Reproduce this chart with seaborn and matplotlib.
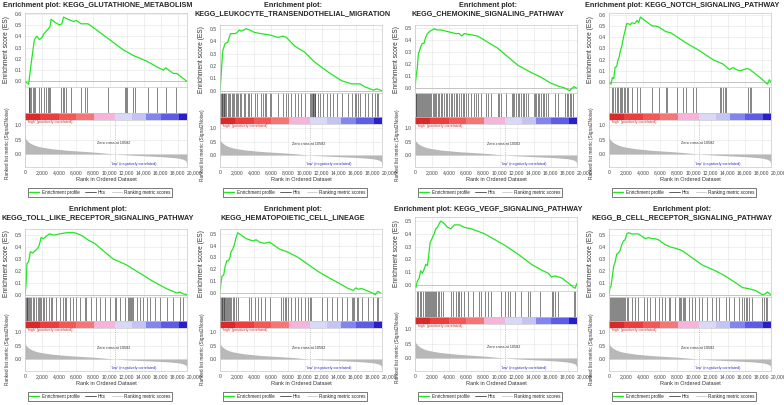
import seaborn as sns
import matplotlib.pyplot as plt
from matplotlib.lines import Line2D
from matplotlib.ticker import MultipleLocator, FormatStrFormatter

# ---- data ----
titles = ['Enrichment plot: KEGG_GLUTATHIONE_METABOLISM',
          'Enrichment plot:\nKEGG_LEUKOCYTE_TRANSENDOTHELIAL_MIGRATION',
          'Enrichment plot:\nKEGG_CHEMOKINE_SIGNALING_PATHWAY',
          'Enrichment plot: KEGG_NOTCH_SIGNALING_PATHWAY',
          'Enrichment plot:\nKEGG_TOLL_LIKE_RECEPTOR_SIGNALING_PATHWAY',
          'Enrichment plot:\nKEGG_HEMATOPOIETIC_CELL_LINEAGE',
          'Enrichment plot: KEGG_VEGF_SIGNALING_PATHWAY',
          'Enrichment plot:\nKEGG_B_CELL_RECEPTOR_SIGNALING_PATHWAY']

glut_rank = [0, 430, 711, 1106, 1383, 1700, 2015, 2212, 2568, 2805, 2963, 3081, 3595, 4069, 4345, 4543,
             5056, 5728, 6044, 6636, 7426, 7821, 11574, 12760, 14339, 15524, 16314, 16590, 17499, 17894, 19100]
glut_es = [0.0, -0.025, 0.15, 0.37, 0.40, 0.37, 0.39, 0.42, 0.45, 0.47, 0.49, 0.55, 0.52, 0.50, 0.51, 0.57,
           0.55, 0.53, 0.54, 0.51, 0.51, 0.49, 0.28, 0.23, 0.18, 0.13, 0.10, 0.12, 0.07, 0.07, 0.0]
glut_hits = [435, 514, 632, 751, 909, 1106, 1225, 1699, 1896, 2212, 2489, 2686, 2884, 3002, 4187, 4464, 4543,
             4859, 5451, 6636, 7031, 7308, 9796, 11771, 11890, 12048, 12759, 12956, 14536, 15524, 16590, 17775]

leuk_rank = [0, 118, 316, 593, 909, 1225, 1501, 1778, 2015, 2291, 2489, 2805, 3081, 3476, 4069, 4859, 5846,
             6834, 7426, 7821, 8809, 9994, 11179, 12759, 14339, 15524, 16511, 17104, 18091, 18486, 18881, 19100]
leuk_es = [0.0, 0.11, 0.32, 0.38, 0.39, 0.46, 0.46, 0.46, 0.47, 0.49, 0.48, 0.49, 0.50, 0.49, 0.47, 0.46, 0.45,
           0.43, 0.44, 0.43, 0.36, 0.31, 0.23, 0.15, 0.08, 0.055, 0.055, 0.03, 0.005, 0.015, 0.005, 0.0]
leuk_hits = [40, 118, 198, 277, 356, 435, 514, 632, 751, 909, 1067, 1225, 1383, 1541, 1699, 1857, 2015, 2173,
             2331, 2489, 2884, 3002, 3279, 3476, 3674, 4069, 4306, 4859, 5056, 5254, 5451, 5846, 6044, 6834,
             7426, 7821, 8019, 8414, 8809, 9204, 9599, 9994, 10586, 10784, 10863, 10942, 11021, 11100, 11179,
             11258, 11574, 11771, 12166, 12561, 12956, 13351, 13746, 14339, 15129, 15524, 15919, 15998, 16314,
             16511, 17104, 17499, 17894, 18289, 18486, 18684]

chem_rank = [0, 118, 276, 395, 671, 868, 1065, 1262, 1460, 1775, 2051, 2249, 2643, 3038, 3629, 4221, 4813,
             5207, 5523, 5799, 6588, 7377, 8561, 9744, 10928, 12111, 13689, 14873, 16056, 17042, 17634, 18226,
             18739, 19054]
chem_es = [0.0, 0.09, 0.17, 0.28, 0.34, 0.37, 0.37, 0.42, 0.45, 0.47, 0.48, 0.49, 0.48, 0.48, 0.47, 0.46, 0.45,
           0.45, 0.43, 0.45, 0.44, 0.43, 0.38, 0.33, 0.26, 0.19, 0.13, 0.09, 0.04, 0.014, 0.003, -0.02,
           0.014, 0.0]
chem_hits = [79, 158, 237, 316, 434, 552, 671, 789, 907, 1026, 1144, 1262, 1381, 1499, 1657, 1775, 1933, 2091,
             2249, 2367, 2525, 2683, 2840, 3038, 3235, 3432, 3629, 3827, 4024, 4221, 4418, 4616, 4813, 5010,
             5207, 5405, 5602, 5799, 5996, 6273, 6588, 6904, 7180, 7456, 7772, 8363, 8640, 8955, 9744, 9941,
             10139, 10730, 11401, 11559, 11717, 11914, 12111, 12308, 12506, 12703, 12900, 13097, 13295, 14005,
             14163, 14320, 14478, 14675, 14873, 15070, 15267, 15464, 15662, 16451, 16845, 17713, 17871, 18029,
             18226, 18423, 18620]

notch_rank = [0, 239, 398, 557, 716, 914, 1034, 1193, 1352, 1511, 1710, 1908, 2068, 2306, 2505, 2704, 3022,
              3300, 3499, 3698, 5089, 5487, 5884, 6680, 7276, 9065, 10656, 12246, 13439, 14234, 14632, 15029,
              15427, 15825, 16302, 16620, 17812, 18700, 18900, 19100]
notch_es = [0.0, -0.02, 0.04, 0.03, 0.13, 0.14, 0.19, 0.22, 0.28, 0.32, 0.40, 0.46, 0.52, 0.52, 0.51, 0.53,
            0.52, 0.55, 0.53, 0.58, 0.50, 0.50, 0.49, 0.45, 0.44, 0.35, 0.28, 0.20, 0.16, 0.11, 0.13, 0.11,
            0.10, 0.11, 0.12, 0.11, 0.04, -0.02, 0.02, 0.0]
notch_hits = [318, 517, 716, 914, 1113, 1312, 1431, 1590, 1710, 1908, 2068, 2227, 2704, 3300, 3698, 5089, 5884,
              6680, 6878, 8071, 8668, 9065, 9860, 10258, 13041, 13240, 13439, 13638, 13836, 16421, 16620,
              16739, 18806]

toll_rank = [0, 118, 237, 435, 632, 909, 1225, 1501, 1699, 1896, 2173, 2489, 2884, 3476, 4069, 4859, 5451,
             5846, 6241, 6834, 7426, 8216, 9204, 10389, 11969, 13549, 15129, 16709, 17894, 18289, 18605, 19079]
toll_es = [0.0, 0.08, 0.26, 0.28, 0.36, 0.35, 0.37, 0.39, 0.42, 0.48, 0.47, 0.49, 0.51, 0.50, 0.51, 0.52, 0.52,
           0.52, 0.51, 0.49, 0.46, 0.43, 0.37, 0.30, 0.25, 0.18, 0.11, 0.05, 0.014, 0.022, 0.008, 0.0]
toll_hits = [40, 118, 198, 277, 356, 435, 553, 672, 909, 1106, 1304, 1501, 1620, 1738, 1857, 2094, 2291, 2489,
             2884, 3042, 3200, 3674, 4069, 4464, 4661, 4859, 5254, 5649, 6044, 6439, 7031, 7229, 7821, 8414,
             8809, 9401, 9994, 10586, 10784, 11179, 11771, 12166, 12285, 12403, 12522, 12640, 12759, 13154,
             13549, 13944, 14339, 14734, 15326, 15919, 16709, 17499, 18289, 18605]

hema_rank = [0, 118, 237, 435, 593, 790, 988, 1185, 1304, 1501, 1699, 1896, 2094, 2489, 3081, 3476, 3871,
             4266, 4661, 5254, 5846, 6439, 7031, 7821, 8414, 9204, 10389, 11574, 12759, 13944, 15129, 15721,
             15998, 16314, 16709, 17499, 17894, 18289, 18605, 18881]
hema_es = [0.0, 0.09, 0.14, 0.15, 0.22, 0.27, 0.27, 0.30, 0.35, 0.37, 0.41, 0.47, 0.51, 0.49, 0.46, 0.45, 0.44,
           0.45, 0.43, 0.42, 0.43, 0.40, 0.37, 0.35, 0.33, 0.30, 0.24, 0.18, 0.13, 0.084, 0.035, 0.02, 0.04,
           0.03, 0.035, 0.012, 0.0, -0.017, 0.012, 0.0]
hema_hits = [40, 118, 198, 277, 356, 435, 514, 632, 751, 869, 988, 1106, 1225, 1343, 1501, 1699, 1896, 2094,
             3476, 3674, 4069, 4464, 4859, 5254, 5846, 7229, 7426, 7624, 7821, 8019, 8414, 8809, 9204, 9599,
             9994, 10389, 10586, 10784, 11969, 12561, 13154, 13746, 14339, 14931, 15524, 15721, 15840, 16116,
             16314, 16709, 17499, 18091, 18486, 18605]

vegf_rank = [0, 119, 277, 475, 673, 871, 1069, 1267, 1465, 1584, 1782, 2059, 2257, 2455, 2653, 2851, 3049,
             3445, 3841, 4237, 4633, 5227, 5821, 6613, 7405, 8197, 8989, 10573, 12157, 13741, 14929, 15721,
             16117, 16513, 17305, 18097, 18691, 18889, 19100]
vegf_es = [0.0, -0.02, 0.03, 0.05, 0.11, 0.09, 0.12, 0.16, 0.15, 0.21, 0.33, 0.37, 0.40, 0.44, 0.45, 0.48, 0.50,
           0.48, 0.45, 0.44, 0.47, 0.47, 0.45, 0.44, 0.42, 0.40, 0.37, 0.31, 0.24, 0.16, 0.115, 0.09, 0.06,
           0.07, 0.053, 0.013, -0.02, -0.027, 0.013]
vegf_hits = [198, 356, 594, 752, 990, 1148, 1307, 1465, 1584, 1703, 1822, 1940, 2059, 2178, 2297, 2416, 2534,
             2653, 2851, 3049, 3247, 4237, 4435, 4831, 5029, 5227, 5425, 5821, 6217, 6811, 7603, 7801, 8197,
             8593, 8989, 10177, 10573, 10969, 11167, 11761, 12553, 13345, 13543, 14731, 16117, 16315, 16513,
             16909, 18691, 18889]

bcell_rank = [0, 119, 237, 395, 553, 711, 909, 1106, 1304, 1501, 1699, 1896, 2094, 2291, 2686, 3081, 3476,
              3871, 4266, 4661, 5056, 5451, 5846, 6636, 7229, 7821, 8611, 9796, 10981, 12561, 13746, 14931,
              15721, 16511, 17301, 18091, 18407, 18684, 19079]
bcell_es = [0.0, 0.06, 0.07, 0.155, 0.24, 0.27, 0.34, 0.35, 0.37, 0.42, 0.45, 0.46, 0.51, 0.52, 0.51, 0.51,
            0.51, 0.49, 0.47, 0.48, 0.47, 0.47, 0.46, 0.42, 0.40, 0.39, 0.37, 0.31, 0.25, 0.20, 0.155, 0.10,
            0.06, 0.05, 0.034, 0.0, 0.006, 0.023, 0.0]
bcell_hits = [119, 237, 356, 474, 593, 711, 830, 948, 1067, 1185, 1304, 1422, 1541, 1659, 1778, 1896, 2094,
              2291, 2686, 3081, 3476, 4069, 4464, 4859, 5451, 5846, 6241, 6636, 7031, 7229, 7821, 8216, 8374,
              8532, 8690, 8809, 9006, 9401, 9796, 10191, 10586, 10981, 11574, 12166, 12561, 12956, 13746,
              14141, 14734, 15326, 15721, 15919, 16116, 16314, 16511, 16906, 18091, 18289, 18486, 18684]

# ranked list metric (same dataset for every panel)
metric_rank = [0, 100, 300, 600, 1000, 1500, 2000, 3000, 4000, 5000, 6000, 7000, 8000, 9000, 10000, 10582,
               11000, 12000, 13000, 14000, 15000, 16000, 17000, 18000, 18500, 18800, 19000, 19100]
metric_value = [0.62, 0.52, 0.45, 0.38, 0.32, 0.27, 0.24, 0.19, 0.16, 0.13, 0.11, 0.09, 0.07, 0.045, 0.015,
                0.0, -0.01, -0.03, -0.045, -0.06, -0.075, -0.09, -0.11, -0.14, -0.17, -0.2, -0.25, -0.38]
zero_cross = 10582
n_genes = 19100

cbar_edges = [0, 1800, 4000, 6000, 8100, 10600, 12600, 14300, 16000, 18200, 19100]
cbar_colors = ['#d82a2a', '#ec3e3e', '#f25858', '#f47676', '#f7b4da', '#d8d8f8', '#c4c4f4',
               '#8484ee', '#5c5ce4', '#2a1ec8']

es_data = [(glut_rank, glut_es, glut_hits), (leuk_rank, leuk_es, leuk_hits),
           (chem_rank, chem_es, chem_hits), (notch_rank, notch_es, notch_hits),
           (toll_rank, toll_es, toll_hits), (hema_rank, hema_es, hema_hits),
           (vegf_rank, vegf_es, vegf_hits), (bcell_rank, bcell_es, bcell_hits)]

# ---- drawing ----
sns.set_style('white')
plt.rcParams['font.family'] = ['Liberation Sans', 'DejaVu Sans']

W, H = 784, 405
fig = plt.figure(figsize=(W / 100, H / 100), dpi=100)
fig.patch.set_facecolor('white')


def box(left, top, width, height):
    return [left / W, 1 - (top + height) / H, width / W, height / H]


def style_axes(ax):
    for s in ax.spines.values():
        s.set_color('#c8c8c8')
        s.set_linewidth(0.5)
    ax.tick_params(length=1.5, width=0.4, pad=1, labelsize=3.6, colors='#444444')


col_x = [0, 195, 390, 584]
row_y = [0, 204]
xticks = list(range(0, 19001, 2000))
grid_kw = dict(color='#e4e4e4', lw=0.4)

for i, (title, (rk, es, hits)) in enumerate(zip(titles, es_data)):
    x0 = col_x[i % 4]
    y0 = row_y[i // 4]
    top = y0 + (25 if '\n' in title else 13)
    total = y0 + 167 - top
    h_es, h_hit, h_cb = 0.48 * total, 0.17 * total, 0.045 * total
    h_m = total - h_es - h_hit - h_cb
    left, width = x0 + 25, 162

    fig.text((x0 + 98) / W, 1 - (y0 + 2) / H, title, ha='center', va='top', fontsize=5.2,
             fontweight='bold', linespacing=1.2)

    # enrichment score
    ax = fig.add_axes(box(left, top, width, h_es))
    style_axes(ax)
    ax.grid(True, **grid_kw)
    ax.axhline(0, color='#b4b4b4', lw=0.5)
    sns.lineplot(x=rk, y=es, ax=ax, color='#22e622', lw=0.9, estimator=None, sort=False)
    lo, hi = min(es), max(es)
    r = hi - lo
    ax.set_ylim(lo - 0.04 * r, hi + 0.06 * r)
    ax.set_xlim(0, n_genes)
    ax.set_xticks(xticks)
    ax.tick_params(axis='x', labelbottom=False, length=0)
    ax.yaxis.set_major_locator(MultipleLocator(0.1))
    ax.yaxis.set_major_formatter(FormatStrFormatter('%.1f'))
    ax.set_ylabel('Enrichment score (ES)', fontsize=4.8, color='#333333')
    ax.yaxis.set_label_coords(-15 / width, 0.5)

    # hits
    axh = fig.add_axes(box(left, top + h_es, width, h_hit))
    style_axes(axh)
    axh.vlines(hits, 0, 1, color='#2a2a2a', lw=0.4)
    axh.set_xlim(0, n_genes)
    axh.set_ylim(0, 1)
    axh.set_xticks([])
    axh.set_yticks([])

    # colour bar
    axc = fig.add_axes(box(left, top + h_es + h_hit, width, h_cb))
    style_axes(axc)
    for a, b, c in zip(cbar_edges[:-1], cbar_edges[1:], cbar_colors):
        axc.axvspan(a, b, color=c, lw=0)
    axc.set_xlim(0, n_genes)
    axc.set_xticks([])
    axc.set_yticks([])

    # ranked list metric
    axm = fig.add_axes(box(left, top + h_es + h_hit + h_cb, width, h_m))
    style_axes(axm)
    axm.grid(True, **grid_kw)
    axm.fill_between(metric_rank, 0, metric_value, color='#b8b8b8', lw=0)
    axm.axvline(zero_cross, color='#9a9a9a', lw=0.5, ls=':')
    axm.set_xlim(0, n_genes)
    axm.set_ylim(-0.45, 1.18)
    axm.set_yticks([0.0, 0.5, 1.0])
    axm.yaxis.set_major_formatter(FormatStrFormatter('%.1f'))
    axm.set_xticks(xticks)
    axm.set_xticklabels(['{:,}'.format(t) for t in xticks])
    axm.annotate('20,000', xy=(20000, 0), xycoords=('data', 'axes fraction'), xytext=(0, -2.5),
                 textcoords='offset points', ha='center', va='top', fontsize=3.6, color='#444444',
                 annotation_clip=False)
    axm.set_xlabel('Rank in Ordered Dataset', fontsize=4.0, color='#333333', labelpad=1.2)
    axm.set_ylabel('Ranked list metric (Signal2Noise)', fontsize=3.4, color='#333333')
    axm.yaxis.set_label_coords(-15 / width, 0.5)
    axm.text(0.01, 0.99, "'high' (positively correlated)", transform=axm.transAxes, ha='left', va='top',
             fontsize=2.7, color='#e03030')
    axm.text(10400, 0.40, 'Zero cross at 10582', ha='center', va='center', fontsize=2.7, color='#333333')
    axm.text(12800, -0.33, "'low' (negatively correlated)", ha='center', va='center', fontsize=2.7,
             color='#3030c0')

    handles = [Line2D([], [], color='#22e622', lw=1.0), Line2D([], [], color='#444444', lw=0.6),
               Line2D([], [], color='#c8c8c8', lw=0.6)]
    axm.legend(handles, ['Enrichment profile', 'Hits', 'Ranking metric scores'], ncol=3,
               loc='center', bbox_to_anchor=((x0 + 100) / W, 1 - (y0 + 192.5) / H),
               bbox_transform=fig.transFigure, fontsize=3.3, frameon=True, fancybox=False,
               edgecolor='#444444', framealpha=1, handlelength=2.2, handletextpad=0.5,
               columnspacing=1.3, borderpad=0.35).get_frame().set_linewidth(0.5)

fig.savefig('out.png', dpi=100)
